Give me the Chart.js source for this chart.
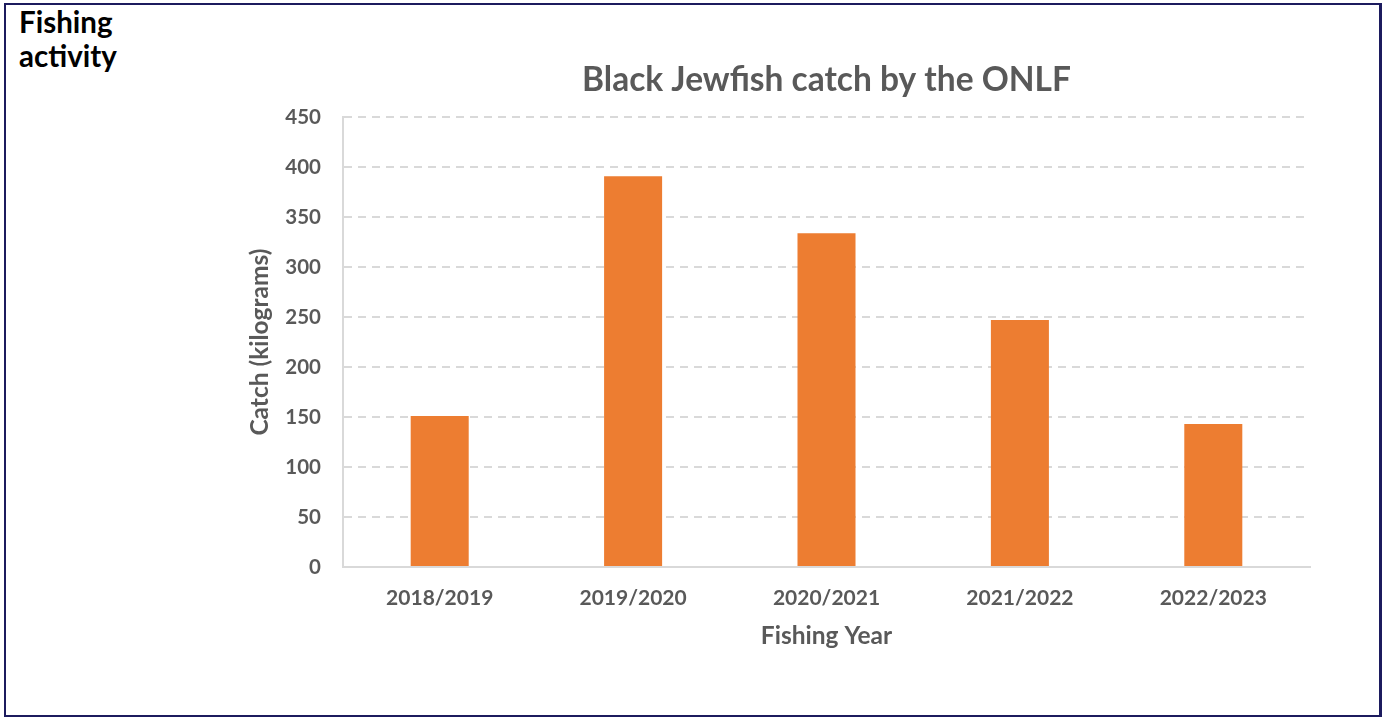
<!DOCTYPE html>
<html>
<head>
<meta charset="utf-8">
<script src="https://cdn.jsdelivr.net/npm/chart.js@4/dist/chart.umd.min.js"></script>
<style>
  html, body { margin: 0; padding: 0; background: #fff; }
  #page { position: relative; width: 1386px; height: 717px; overflow: hidden; }
  #frame {
    position: absolute; left: 4px; top: 3px; width: 1373px; height: 710px;
    border: 2px solid #1c1b5e; border-right-width: 3px;
  }
  #heading {
    position: absolute; left: 19px; top: 5px;
    font-family: Lato, "Open Sans", sans-serif; font-weight: bold;
    font-size: 29.5px; line-height: 34px; color: #000;
  }
  #chart1 { position: absolute; left: 0; top: 0; }
</style>
</head>
<body>
<div id="page">
  <div id="frame"></div>
  <div id="heading">Fishing<br>activity</div>
  <canvas id="chart1" width="1386" height="717"></canvas>
</div>
<script>
const years = ["2018/2019", "2019/2020", "2020/2021", "2021/2022", "2022/2023"];
const catchKg = [151, 391, 334, 247, 143];

const textColor = "#595959";
const gridColor = "#d9d9d9";
const fontFamily = "Lato, 'Open Sans', sans-serif";

const ctx = document.getElementById("chart1");

new Chart(ctx, {
  type: "bar",
  data: {
    labels: years,
    datasets: [
      {
        label: "Catch",
        data: catchKg,
        backgroundColor: "#ED7D31",
        borderWidth: 0,
        barPercentage: 0.6,
        categoryPercentage: 0.5,
      },
    ],
  },
  options: {
    responsive: false,
    animation: false,
    devicePixelRatio: 1,
    layout: {
      padding: { left: 240, right: 76, top: 60, bottom: 60 },
    },
    plugins: {
      legend: { display: false },
      tooltip: { enabled: false },
      title: {
        display: true,
        fullSize: false,
        text: "Black Jewfish catch by the ONLF",
        color: textColor,
        font: { family: fontFamily, size: 33.5, weight: "bold" },
        padding: { top: 0, bottom: 17 },
      },
    },
    scales: {
      x: {
        grid: { display: false, drawTicks: false },
        border: { display: true, color: gridColor, width: 2 },
        ticks: {
          color: textColor,
          padding: 19,
          font: { family: fontFamily, size: 21, weight: "bold" },
        },
        title: {
          display: true,
          text: "Fishing Year",
          color: textColor,
          font: { family: fontFamily, size: 24.5, weight: "bold" },
          padding: { top: 0, bottom: 6 },
        },
        afterFit: (scale) => {
          scale.height = 90;
        },
      },
      y: {
        min: 0,
        max: 450,
        grid: {
          color: gridColor,
          lineWidth: 2,
          drawTicks: false,
        },
        border: { display: true, color: gridColor, width: 2, dash: [8, 6] },
        ticks: {
          stepSize: 50,
          color: textColor,
          padding: 22,
          font: { family: fontFamily, size: 20.5, weight: "bold" },
        },
        title: {
          display: true,
          text: "Catch (kilograms)",
          color: textColor,
          font: { family: fontFamily, size: 24.5, weight: "bold" },
          padding: { top: 5, bottom: 0 },
        },
        afterFit: (scale) => {
          scale.width = 103;
        },
      },
    },
  },
});
</script>
</body>
</html>
